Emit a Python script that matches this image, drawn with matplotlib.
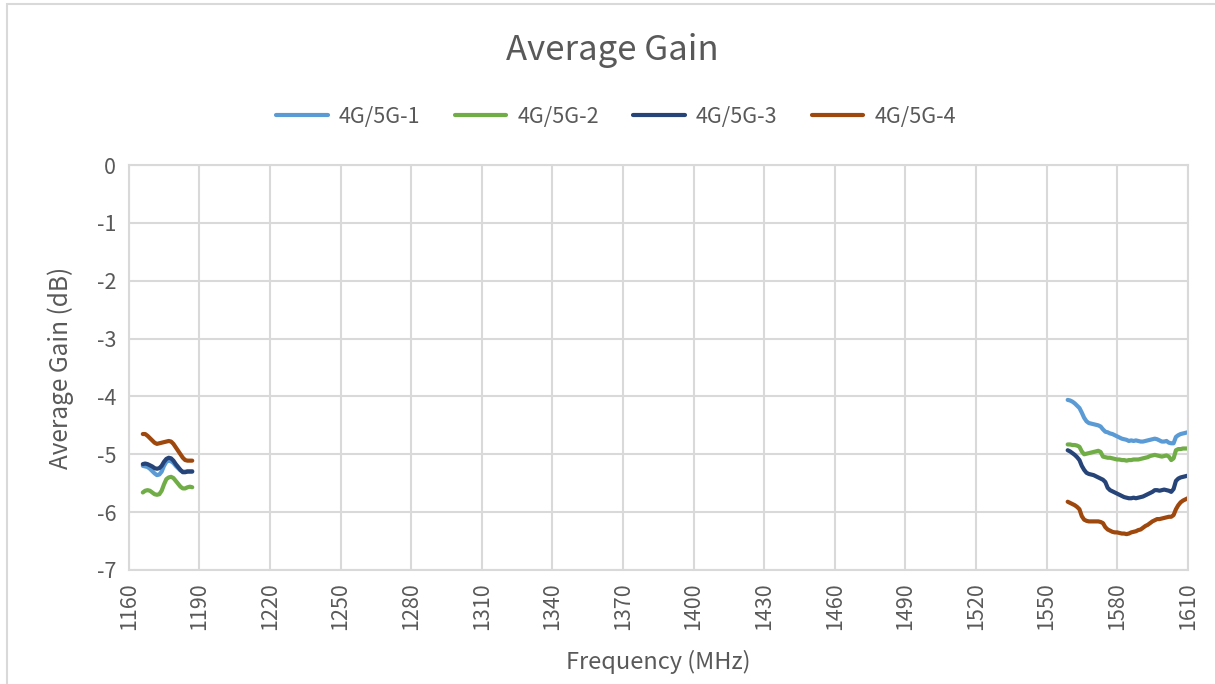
import matplotlib
matplotlib.use("Agg")
import matplotlib.pyplot as plt
from matplotlib.patches import Rectangle

plt.rcParams["font.family"] = ["Noto Sans CJK SC", "DejaVu Sans"]
plt.rcParams["font.weight"] = "light"
plt.rcParams["axes.unicode_minus"] = False

# Frequency points (MHz) for the two measured bands
freq_low = list(range(1166, 1188))
freq_high = list(range(1559, 1611))

series_names = ["4G/5G-1", "4G/5G-2", "4G/5G-3", "4G/5G-4"]
series_colors = ["#5B9BD5", "#70AD47", "#264478", "#9E480E"]

# Average gain (dB), low band 1166-1187 MHz
gain1_low = [-5.20, -5.21, -5.22, -5.25, -5.29, -5.33, -5.36, -5.35, -5.30, -5.20, -5.13,
             -5.11, -5.12, -5.15, -5.20, -5.24, -5.28, -5.30, -5.30, -5.29, -5.29, -5.29]
gain2_low = [-5.66, -5.63, -5.62, -5.63, -5.66, -5.69, -5.70, -5.69, -5.63, -5.52, -5.43,
             -5.40, -5.39, -5.41, -5.46, -5.51, -5.56, -5.59, -5.59, -5.57, -5.56, -5.57]
gain3_low = [-5.17, -5.16, -5.17, -5.19, -5.21, -5.24, -5.25, -5.24, -5.20, -5.13, -5.08,
             -5.06, -5.07, -5.11, -5.17, -5.22, -5.27, -5.31, -5.31, -5.30, -5.30, -5.30]
gain4_low = [-4.65, -4.65, -4.68, -4.72, -4.76, -4.80, -4.82, -4.81, -4.80, -4.79, -4.78,
             -4.77, -4.78, -4.82, -4.88, -4.94, -5.00, -5.06, -5.10, -5.11, -5.11, -5.11]

# Average gain (dB), high band 1559-1610 MHz
gain1_high = [-4.06, -4.07, -4.09, -4.12, -4.16, -4.20, -4.28, -4.37, -4.43, -4.46, -4.47,
              -4.48, -4.49, -4.50, -4.52, -4.57, -4.61, -4.62, -4.64, -4.65, -4.67, -4.69,
              -4.71, -4.73, -4.74, -4.75, -4.77, -4.76, -4.77, -4.76, -4.77, -4.78, -4.78,
              -4.77, -4.76, -4.75, -4.74, -4.73, -4.74, -4.76, -4.78, -4.78, -4.77, -4.80,
              -4.81, -4.81, -4.70, -4.67, -4.65, -4.64, -4.63, -4.62]
gain2_high = [-4.83, -4.83, -4.84, -4.84, -4.85, -4.87, -4.95, -5.00, -4.99, -4.98, -4.97,
              -4.96, -4.95, -4.94, -4.96, -5.04, -5.05, -5.06, -5.06, -5.07, -5.08, -5.09,
              -5.09, -5.10, -5.10, -5.11, -5.10, -5.10, -5.09, -5.09, -5.09, -5.08, -5.07,
              -5.06, -5.05, -5.03, -5.02, -5.01, -5.02, -5.03, -5.04, -5.03, -5.02, -5.04,
              -5.10, -5.07, -4.93, -4.91, -4.91, -4.90, -4.90, -4.90]
gain3_high = [-4.93, -4.95, -4.98, -5.01, -5.05, -5.10, -5.20, -5.27, -5.32, -5.34, -5.35,
              -5.36, -5.38, -5.40, -5.42, -5.44, -5.48, -5.58, -5.62, -5.64, -5.66, -5.68,
              -5.70, -5.72, -5.74, -5.75, -5.76, -5.76, -5.75, -5.76, -5.75, -5.74, -5.73,
              -5.71, -5.69, -5.67, -5.65, -5.62, -5.62, -5.63, -5.62, -5.61, -5.62, -5.63,
              -5.65, -5.60, -5.46, -5.42, -5.40, -5.39, -5.38, -5.37]
gain4_high = [-5.82, -5.84, -5.86, -5.88, -5.91, -5.95, -6.07, -6.13, -6.15, -6.16, -6.16,
              -6.16, -6.16, -6.16, -6.17, -6.19, -6.26, -6.30, -6.32, -6.34, -6.35, -6.35,
              -6.36, -6.37, -6.37, -6.38, -6.37, -6.35, -6.34, -6.33, -6.31, -6.30, -6.27,
              -6.24, -6.22, -6.19, -6.16, -6.14, -6.12, -6.12, -6.11, -6.10, -6.09, -6.08,
              -6.08, -6.05, -5.95, -5.88, -5.83, -5.80, -5.78, -5.76]

x_ticks = list(range(1160, 1611, 30))
y_ticks = list(range(-7, 1))

title = "Average Gain"
x_label = "Frequency (MHz)"
y_label = "Average Gain (dB)"

text_color = "#595959"
grid_color = "#D9D9D9"

fig = plt.figure(figsize=(12.15, 6.84), dpi=100)
fig.patch.set_facecolor("white")

# chart-area border
fig.patches.append(Rectangle((7 / 1215, -0.1), 1.2, 1 - 4 / 684 + 0.1,
                             transform=fig.transFigure, fill=False,
                             edgecolor="#D9D9D9", linewidth=1.5, zorder=0))

ax = fig.add_axes([128.7 / 1215, 1 - 570 / 684, (1187.7 - 128.7) / 1215, (570 - 165) / 684])

lows = [gain1_low, gain2_low, gain3_low, gain4_low]
highs = [gain1_high, gain2_high, gain3_high, gain4_high]
for name, color, lo, hi in zip(series_names, series_colors, lows, highs):
    ax.plot(freq_low, lo, color=color, lw=3.0, solid_capstyle="round", label=name)
    ax.plot(freq_high, hi, color=color, lw=3.0, solid_capstyle="round")

ax.set_xlim(1160, 1610)
ax.set_ylim(-7, 0)
ax.set_xticks(x_ticks)
ax.set_yticks(y_ticks)
ax.set_xticklabels([str(v) for v in x_ticks], rotation=90)
ax.set_yticklabels([str(v) for v in y_ticks])
ax.tick_params(axis="both", length=0, colors=text_color, labelsize=15.5, pad=9)
ax.grid(True, color=grid_color, linewidth=1.5)
ax.set_axisbelow(True)
for sp in ax.spines.values():
    sp.set_color(grid_color)
    sp.set_linewidth(1.5)

ax.set_xlabel(x_label, fontsize=17, color=text_color, labelpad=14)
ax.set_ylabel(y_label, fontsize=17.5, color=text_color, labelpad=16)

fig.text(612 / 1215, 1 - 50 / 684, title, ha="center", va="center",
         fontsize=25, color=text_color)

fig.legend(loc="center", bbox_to_anchor=(616 / 1215, 1 - 117 / 684), ncol=4,
           frameon=False, fontsize=15.5, labelcolor=text_color,
           handlelength=2.4, handletextpad=0.5, columnspacing=1.6)

fig.savefig("out.png", dpi=100)
